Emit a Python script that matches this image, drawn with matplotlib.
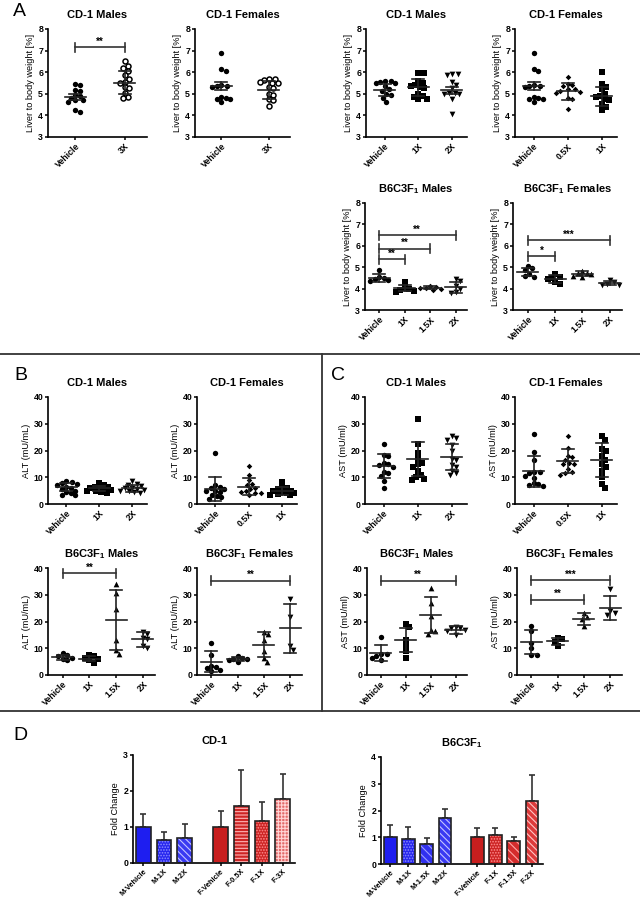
import numpy as np
import matplotlib
matplotlib.use('Agg')
import matplotlib.pyplot as plt
from matplotlib.lines import Line2D

plt.rcParams['font.family'] = ['Liberation Sans', 'DejaVu Sans']
plt.rcParams['font.weight'] = 'bold'
plt.rcParams['mathtext.fontset'] = 'custom'
plt.rcParams['mathtext.rm'] = 'Liberation Sans:bold'
plt.rcParams['mathtext.bf'] = 'Liberation Sans:bold'
plt.rcParams['axes.linewidth'] = 1.2
plt.rcParams['hatch.linewidth'] = 0.8

# ---------------- data ----------------
# A: liver to body weight [%]
a1_groups = ['Vehicle', '3X']
a1_vals = [[5.47, 5.42, 5.17, 5.12, 4.95, 4.9, 4.8, 4.72, 4.7, 4.62, 4.25, 4.15],
           [6.5, 6.3, 6.2, 6.05, 5.85, 5.7, 5.55, 5.5, 5.3, 5.25, 5.05, 4.85, 4.8]]
a1_mean = [4.85, 5.52]
a1_err = [0.14, 0.55]
a1_sig = [(0, 1, 7.15, '**')]

a2_groups = ['Vehicle', '3X']
a2_vals = [[6.9, 6.15, 6.05, 5.4, 5.38, 5.35, 5.3, 4.85, 4.8, 4.75, 4.75, 4.6],
           [5.7, 5.7, 5.65, 5.55, 5.5, 5.5, 5.3, 5.25, 5.0, 4.95, 4.75, 4.7, 4.45]]
a2_mean = [5.36, 5.18]
a2_err = [0.2, 0.42]

a3_groups = ['Vehicle', '1X', '2X']
a3_vals = [[5.6, 5.6, 5.55, 5.5, 5.5, 5.35, 5.2, 5.15, 5.0, 4.95, 4.8, 4.6],
           [5.95, 5.95, 5.6, 5.5, 5.4, 5.35, 5.3, 5.25, 5.0, 4.9, 4.85, 4.75, 4.75],
           [5.9, 5.9, 5.85, 5.55, 5.4, 5.25, 5.05, 5.05, 5.0, 5.0, 4.75, 4.05]]
a3_mean = [5.18, 5.3, 5.16]
a3_err = [0.28, 0.38, 0.15]

a4_groups = ['Vehicle', '0.5X', '1X']
a4_vals = [[6.9, 6.15, 6.05, 5.4, 5.38, 5.35, 5.3, 4.85, 4.8, 4.75, 4.75, 4.6],
           [5.8, 5.45, 5.4, 5.35, 5.2, 5.2, 5.15, 5.1, 5.05, 4.8, 4.75, 4.3],
           [6.0, 5.45, 5.3, 5.2, 5.0, 4.9, 4.85, 4.75, 4.7, 4.55, 4.4, 4.25]]
a4_mean = [5.36, 5.12, 4.88]
a4_err = [0.2, 0.39, 0.45]

a5_groups = ['Vehicle', '1X', '1.5X', '2X']
a5_vals = [[4.85, 4.55, 4.5, 4.45, 4.4, 4.35],
           [4.3, 4.05, 4.0, 3.95, 3.9, 3.85],
           [4.1, 4.08, 4.05, 4.05, 4.0, 3.95],
           [4.45, 4.35, 4.1, 4.0, 3.85, 3.8]]
a5_mean = [4.5, 4.02, 4.05, 4.07]
a5_err = [0.17, 0.13, 0.06, 0.26]
a5_sig = [(0, 1, 5.36, '**'), (0, 2, 5.87, '**'), (0, 3, 6.49, '**')]

a6_groups = ['Vehicle', '1X', '1.5X', '2X']
a6_vals = [[5.05, 4.95, 4.85, 4.7, 4.6, 4.55],
           [4.7, 4.55, 4.5, 4.45, 4.3, 4.2],
           [4.8, 4.75, 4.75, 4.7, 4.6, 4.55],
           [4.4, 4.3, 4.2, 4.15, 4.15]]
a6_mean = [4.77, 4.45, 4.7, 4.25]
a6_err = [0.2, 0.17, 0.1, 0.1]
a6_sig = [(0, 1, 5.51, '*'), (0, 3, 6.26, '***')]

# B: ALT (mU/mL)
b1_groups = ['Vehicle', '1X', '2X']
b1_vals = [[8.5, 8.2, 7.8, 7.5, 7.0, 6.5, 6.0, 5.5, 5.0, 4.5, 4.0, 3.5, 3.2],
           [7.8, 7.2, 6.5, 6.3, 6.0, 5.8, 5.5, 5.2, 5.0, 4.8, 4.5, 4.2],
           [8.5, 7.5, 7.2, 6.8, 6.0, 5.8, 5.5, 5.2, 5.0, 4.8, 4.5, 4.2]]
b1_mean = [6.4, 5.8, 5.8]
b1_err = [1.6, 0.9, 1.3]

b2_groups = ['Vehicle', '0.5X', '1X']
b2_vals = [[19.2, 7.0, 6.5, 6.0, 5.5, 5.0, 4.8, 4.5, 3.5, 3.0, 2.5, 2.0],
           [14.3, 11.0, 9.0, 7.5, 7.0, 6.0, 5.5, 5.0, 4.5, 4.2, 4.0, 3.5],
           [8.3, 6.5, 6.0, 5.5, 5.0, 4.8, 4.5, 4.2, 4.0, 3.8, 3.5, 3.2]]
b2_mean = [5.7, 6.5, 4.8]
b2_err = [4.4, 3.3, 1.5]

b3_groups = ['Vehicle', '1X', '1.5X', '2X']
b3_vals = [[8.2, 7.5, 7.0, 6.5, 6.0, 5.5],
           [7.5, 7.0, 6.5, 6.0, 5.5, 4.5],
           [34.2, 30.5, 24.5, 13.0, 9.5, 8.0],
           [16.0, 15.5, 14.0, 13.5, 11.0, 10.0]]
b3_mean = [6.6, 6.1, 20.5, 13.3]
b3_err = [1.0, 1.0, 11.2, 2.7]
b3_sig = [(0, 2, 38.1, '**')]

b4_groups = ['Vehicle', '1X', '1.5X', '2X']
b4_vals = [[12.0, 7.3, 3.5, 3.0, 2.8, 1.8, 1.5],
           [7.0, 6.5, 6.0, 5.8, 5.5, 4.8],
           [16.0, 15.5, 13.0, 9.0, 6.5, 5.0],
           [28.5, 21.5, 11.0, 9.5]]
b4_mean = [5.0, 5.9, 11.3, 17.4]
b4_err = [3.9, 0.8, 4.7, 9.0]
b4_sig = [(0, 3, 35.2, '**')]

# C: AST (mU/ml)
c1_groups = ['Vehicle', '1X', '2X']
c1_vals = [[22.3, 18.5, 18.0, 15.5, 14.8, 14.5, 13.8, 12.0, 11.5, 10.5, 8.5, 5.8],
           [31.6, 22.5, 19.0, 16.8, 15.5, 15.0, 13.8, 12.5, 11.0, 10.0, 9.5, 9.0],
           [25.3, 24.5, 24.0, 22.0, 19.8, 17.0, 16.5, 14.5, 14.0, 12.5, 11.5, 10.8]]
c1_mean = [14.2, 16.7, 17.6]
c1_err = [4.6, 6.4, 5.0]

c2_groups = ['Vehicle', '0.5X', '1X']
c2_vals = [[26.0, 19.5, 16.5, 12.0, 11.8, 11.5, 10.5, 9.8, 8.0, 7.5, 7.0, 6.8],
           [25.5, 21.0, 18.0, 17.5, 16.5, 15.5, 15.0, 14.8, 13.0, 11.8, 11.5, 11.0],
           [25.5, 24.0, 20.5, 20.0, 18.0, 16.5, 15.0, 14.0, 12.5, 10.0, 7.5, 6.0]]
c2_mean = [12.3, 16.0, 16.4]
c2_err = [5.8, 4.5, 6.3]

c3_groups = ['Vehicle', '1X', '1.5X', '2X']
c3_vals = [[14.3, 8.0, 7.8, 7.0, 6.5, 5.5],
           [19.2, 17.8, 13.0, 11.0, 9.0, 6.5],
           [32.5, 27.0, 22.0, 17.0, 16.5, 15.5],
           [18.0, 17.5, 17.5, 17.0, 16.5, 15.0]]
c3_mean = [8.3, 13.2, 22.5, 16.7]
c3_err = [3.0, 4.5, 6.7, 1.5]
c3_sig = [(0, 3, 35.2, '**')]

c4_groups = ['Vehicle', '1X', '1.5X', '2X']
c4_vals = [[18.5, 16.5, 12.0, 10.0, 7.5, 7.5],
           [14.0, 13.5, 12.5, 11.0],
           [23.0, 21.5, 21.0, 18.5],
           [32.0, 24.0, 23.0, 22.5]]
c4_mean = [12.3, 12.7, 20.8, 25.0]
c4_err = [4.5, 1.3, 2.2, 4.6]
c4_sig = [(0, 2, 28.2, '**'), (0, 3, 35.4, '***')]

# D: fold change
d1_labels = ['M-Vehicle', 'M-1X', 'M-2X', 'F-Vehicle', 'F-0.5X', 'F-1X', 'F-3X']
d1_vals = [1.0, 0.65, 0.70, 1.0, 1.58, 1.17, 1.78]
d1_err = [0.37, 0.21, 0.37, 0.45, 1.0, 0.52, 0.69]

d2_labels = ['M-Vehicle', 'M-1X', 'M-1.5X', 'M-2X', 'F-Vehicle', 'F-1X', 'F-1.5X', 'F-2X']
d2_vals = [1.02, 0.93, 0.73, 1.73, 1.0, 1.08, 0.87, 2.35]
d2_err = [0.45, 0.44, 0.26, 0.31, 0.35, 0.26, 0.15, 0.99]

# ---------------- drawing ----------------
W, H = 640, 900
fig = plt.figure(figsize=(W / 100, H / 100), dpi=100)

TICK_FS = 6.3
LAB_FS = 6.6
TITLE_FS = 8


def make_ax(rect):
    l, t, r, b = rect
    ax = fig.add_axes([l / W, 1 - b / H, (r - l) / W, (b - t) / H])
    ax.spines['top'].set_visible(False)
    ax.spines['right'].set_visible(False)
    ax.tick_params(labelsize=TICK_FS, length=2.5, width=1.1, pad=1)
    return ax


def swarm(ypx, d, maxw):
    # place points side by side (in pixels) so they overlap as little as possible
    order = np.argsort(-ypx)
    placed = []
    out = np.zeros(len(ypx))
    cands = [0.0]
    k = 1
    while k * 1.5 <= maxw:
        cands += [k * 1.5, -k * 1.5]
        k += 1
    for idx in order:
        y = ypx[idx]
        best, best_d = 0.0, -1
        for x in cands:
            md = min([np.hypot(x - px, y - py) for px, py in placed] + [99])
            if md >= d:
                best = x
                break
            if md > best_d:
                best, best_d = x, md
        placed.append((best, y))
        out[idx] = best
    return out


def dot_plot(rect, title, groups, vals, mean, err, markers, ylim, yticks, ylabel, sig=()):
    ax = make_ax(rect)
    l, t, r, b = rect
    n = len(groups)
    ax.set_xlim(-0.55, n - 0.55)
    ax.set_ylim(*ylim)
    xppu = (r - l) / n
    yppu = (b - t) / (ylim[1] - ylim[0])
    for i, v in enumerate(vals):
        v = np.array(v)
        offs = swarm(v * yppu, 4.6, 12.0)
        xs = i + offs / xppu
        mk = markers[i]
        if mk == 'open':
            ax.scatter(xs, v, s=13, marker='o', facecolor='white', edgecolor='black',
                       linewidth=1.1, zorder=3, clip_on=False)
        else:
            size = {'o': 15, 's': 14, 'v': 17, '^': 17, 'D': 8}[mk]
            ax.scatter(xs, v, s=size, marker=mk, color='black', linewidth=0,
                       zorder=3, clip_on=False)
        hw = 10.5 / xppu
        cw = 6.0 / xppu
        ax.plot([i - hw, i + hw], [mean[i]] * 2, color='#222', lw=1.2, zorder=4)
        ax.plot([i, i], [mean[i] - err[i], mean[i] + err[i]], color='#222', lw=1.2, zorder=4)
        for yy in (mean[i] - err[i], mean[i] + err[i]):
            ax.plot([i - cw, i + cw], [yy, yy], color='#222', lw=1.2, zorder=4)
    for (i, j, y, lab) in sig:
        ch = 4.5 / yppu
        ax.plot([i, j], [y, y], color='#333', lw=1.2)
        ax.plot([i, i], [y - ch, y + ch], color='#333', lw=1.2)
        ax.plot([j, j], [y - ch, y + ch], color='#333', lw=1.2)
        ax.text((i + j) / 2, y + 0.5 / yppu, lab, ha='center', va='bottom', fontsize=7)
    ax.set_xticks(range(n))
    ax.set_xticklabels(groups, rotation=45, ha='right', rotation_mode='anchor')
    ax.set_yticks(yticks)
    ax.set_ylabel(ylabel, fontsize=LAB_FS, labelpad=2)
    ax.set_title(title, fontsize=TITLE_FS, fontweight='bold', pad=8)
    return ax


bar_styles = {
    'M-Vehicle': ('#1e1ef0', None, '#1e1ef0'),
    'M-1X': ('#2626ee', '......', '#8c8cff'),
    'M-1.5X': ('#3030ee', '\\\\\\\\', '#9c9cff'),
    'M-2X': ('#3a3af2', '\\\\\\\\\\', '#c4c4ff'),
    'F-Vehicle': ('#c81e1e', None, '#c81e1e'),
    'F-0.5X': ('#cc2424', '-----', '#ffb4b4'),
    'F-1X': ('#cc2424', '......', '#ff8c8c'),
    'F-1.5X': ('#d42c2c', '\\\\\\\\', '#ffa4a4'),
    'F-2X': ('#dc3a3a', '\\\\\\\\\\', '#ffc4c4'),
    'F-3X': ('#e26a6a', '+++++', '#ffd4d4'),
}


def bar_plot(rect, title, labels, vals, err, ylim, yticks):
    ax = make_ax(rect)
    n_m = sum(lab.startswith('M') for lab in labels)
    pos = [i if i < n_m else i + 0.75 for i in range(len(labels))]
    ax.set_xlim(-0.5, pos[-1] + 0.6)
    ax.set_ylim(*ylim)
    for p, lab, v, e in zip(pos, labels, vals, err):
        fc, hatch, hc = bar_styles[lab]
        ax.errorbar(p, v, yerr=[[0], [e]], ecolor='#333', capsize=2.5,
                    elinewidth=1.2, capthick=1.2, fmt='none', zorder=1)
        ax.bar(p, v, width=0.7, color=fc, hatch=hatch, edgecolor=hc, linewidth=0, zorder=2)
        ax.bar(p, v, width=0.7, fill=False, edgecolor='#222', linewidth=1.2, zorder=3)
    ax.set_xticks(pos)
    ax.set_xticklabels(labels, rotation=45, ha='right', rotation_mode='anchor')
    ax.tick_params(axis='x', labelsize=5.4)
    ax.set_yticks(yticks)
    ax.set_ylabel('Fold Change', fontsize=LAB_FS, labelpad=2)
    ax.set_title(title, fontsize=TITLE_FS, fontweight='bold', pad=8)
    return ax


lw_lab = 'Liver to body weight [%]'
yA = (3, 8)
tA = [3, 4, 5, 6, 7, 8]
y40 = (0, 40)
t40 = [0, 10, 20, 30, 40]
b6m = r'B6C3F$_\mathbf{1}$ Males'
b6f = r'B6C3F$_\mathbf{1}$ Females'

dot_plot((48, 29, 147, 137), 'CD-1 Males', a1_groups, a1_vals, a1_mean, a1_err,
         ['o', 'open'], yA, tA, lw_lab, a1_sig)
dot_plot((195, 29, 290, 137), 'CD-1 Females', a2_groups, a2_vals, a2_mean, a2_err,
         ['o', 'open'], yA, tA, lw_lab)
dot_plot((366, 29, 467, 137), 'CD-1 Males', a3_groups, a3_vals, a3_mean, a3_err,
         ['o', 's', 'v'], yA, tA, lw_lab)
dot_plot((515, 29, 617, 137), 'CD-1 Females', a4_groups, a4_vals, a4_mean, a4_err,
         ['o', 'D', 's'], yA, tA, lw_lab)
dot_plot((365, 203, 467, 310), b6m, a5_groups, a5_vals, a5_mean, a5_err,
         ['o', 's', 'D', 'v'], yA, tA, lw_lab, a5_sig)
dot_plot((513, 203, 622, 310), b6f, a6_groups, a6_vals, a6_mean, a6_err,
         ['o', 's', '^', 'v'], yA, tA, lw_lab, a6_sig)

dot_plot((48, 397, 147, 504), 'CD-1 Males', b1_groups, b1_vals, b1_mean, b1_err,
         ['o', 's', 'v'], y40, t40, 'ALT (mU/mL)')
dot_plot((197, 397, 297, 504), 'CD-1 Females', b2_groups, b2_vals, b2_mean, b2_err,
         ['o', 'D', 's'], y40, t40, 'ALT (mU/mL)')
dot_plot((48, 568, 155, 675), b6m, b3_groups, b3_vals, b3_mean, b3_err,
         ['o', 's', '^', 'v'], y40, t40, 'ALT (mU/mL)', b3_sig)
dot_plot((197, 568, 302, 675), b6f, b4_groups, b4_vals, b4_mean, b4_err,
         ['o', 'o', '^', 'v'], y40, t40, 'ALT (mU/mL)', b4_sig)

dot_plot((365, 397, 467, 504), 'CD-1 Males', c1_groups, c1_vals, c1_mean, c1_err,
         ['o', 's', 'v'], y40, t40, 'AST (mU/ml)')
dot_plot((515, 397, 617, 504), 'CD-1 Females', c2_groups, c2_vals, c2_mean, c2_err,
         ['o', 'D', 's'], y40, t40, 'AST (mU/ml)')
dot_plot((367, 568, 467, 675), b6m, c3_groups, c3_vals, c3_mean, c3_err,
         ['o', 's', '^', 'v'], y40, t40, 'AST (mU/ml)', c3_sig)
dot_plot((517, 568, 622, 675), b6f, c4_groups, c4_vals, c4_mean, c4_err,
         ['o', 's', '^', 'v'], y40, t40, 'AST (mU/ml)', c4_sig)

bar_plot((133, 755, 295, 863), 'CD-1', d1_labels, d1_vals, d1_err, (0, 3), [0, 1, 2, 3])
bar_plot((381, 757, 543, 864), r'B6C3F$_\mathbf{1}$', d2_labels, d2_vals, d2_err,
         (0, 4), [0, 1, 2, 3, 4])

# panel letters
for lx, ly, letter in [(13, 12, 'A'), (14, 376, 'B'), (331, 376, 'C'), (13, 736, 'D')]:
    fig.text(lx / W, 1 - ly / H, letter, fontsize=14, fontweight='normal', va='center', ha='left')

# separators
sep = dict(color='#333333', lw=1.3)
fig.add_artist(Line2D([0, 1], [1 - 354 / H] * 2, **sep))
fig.add_artist(Line2D([0, 1], [1 - 711 / H] * 2, **sep))
fig.add_artist(Line2D([322 / W] * 2, [1 - 354 / H, 1 - 711 / H], **sep))

fig.savefig('out.png', dpi=100)
